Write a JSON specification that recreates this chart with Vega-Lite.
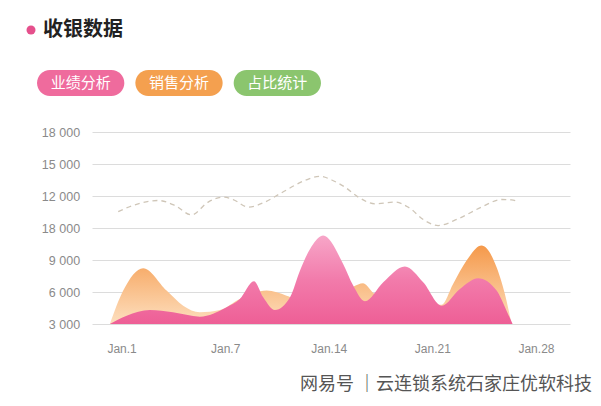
{
  "$schema": "https://vega.github.io/schema/vega-lite/v6.json",
  "background": "white",
  "padding": {"left": 21, "top": 20, "right": 0, "bottom": 12},
  "spacing": 30,
  "config": {"view": {"stroke": null}, "font": "Liberation Sans"},
  "datasets": {
    "tabs": [
      {"label": "业绩分析", "section": "收银数据"},
      {"label": "销售分析", "section": "收银数据"},
      {"label": "占比统计", "section": "收银数据"}
    ],
    "perf": [
      {"day": -0.79, "value": 3000}, {"day": 0.34, "value": 3780}, {"day": 1.91, "value": 4310},
      {"day": 3.47, "value": 4100}, {"day": 5.29, "value": 3690}, {"day": 7.09, "value": 4570},
      {"day": 7.99, "value": 5350}, {"day": 8.94, "value": 7010}, {"day": 9.57, "value": 5500},
      {"day": 10.36, "value": 4310}, {"day": 11.38, "value": 5500}, {"day": 12.05, "value": 8000},
      {"day": 12.95, "value": 10510}, {"day": 13.62, "value": 11290}, {"day": 14.97, "value": 8630},
      {"day": 15.65, "value": 6600}, {"day": 16.44, "value": 5130}, {"day": 17.68, "value": 6910},
      {"day": 19.14, "value": 8380}, {"day": 20.38, "value": 6910}, {"day": 21.62, "value": 4720},
      {"day": 22.86, "value": 6290}, {"day": 24.09, "value": 7290}, {"day": 25.34, "value": 6130},
      {"day": 26.01, "value": 4250}, {"day": 26.42, "value": 3000}
    ],
    "sales": [
      {"day": -0.79, "value": 3000}, {"day": 0.11, "value": 6130}, {"day": 1.46, "value": 8230},
      {"day": 3.04, "value": 6130}, {"day": 4.16, "value": 4720}, {"day": 5.29, "value": 4100},
      {"day": 6.64, "value": 4310}, {"day": 7.99, "value": 5350}, {"day": 9.8, "value": 6130},
      {"day": 11.15, "value": 5660}, {"day": 12.05, "value": 5200}, {"day": 13.6, "value": 6000},
      {"day": 15.1, "value": 6200}, {"day": 15.65, "value": 6500}, {"day": 16.32, "value": 6820},
      {"day": 17.11, "value": 5820}, {"day": 18.1, "value": 5500}, {"day": 20.2, "value": 5000},
      {"day": 21.62, "value": 4800}, {"day": 22.4, "value": 6760}, {"day": 23.31, "value": 8950},
      {"day": 24.32, "value": 10350}, {"day": 25.34, "value": 8320}, {"day": 26.01, "value": 5190},
      {"day": 26.35, "value": 3000}
    ],
    "ratio": [
      {"day": -0.23, "value": 13540}, {"day": 1.12, "value": 14270}, {"day": 2.47, "value": 14580},
      {"day": 3.6, "value": 14110}, {"day": 4.73, "value": 13230}, {"day": 5.85, "value": 14430},
      {"day": 6.86, "value": 14900}, {"day": 7.54, "value": 14670}, {"day": 8.55, "value": 13960},
      {"day": 9.68, "value": 14430}, {"day": 10.81, "value": 15300}, {"day": 12.39, "value": 16460},
      {"day": 13.4, "value": 16850}, {"day": 14.2, "value": 16500}, {"day": 15.09, "value": 15830},
      {"day": 15.99, "value": 14900}, {"day": 17.11, "value": 14270}, {"day": 18.47, "value": 14430},
      {"day": 19.36, "value": 13960}, {"day": 20.49, "value": 12700}, {"day": 21.39, "value": 12230},
      {"day": 22.74, "value": 12860}, {"day": 24.32, "value": 13960}, {"day": 25.68, "value": 14670},
      {"day": 26.35, "value": 14640}, {"day": 26.84, "value": 14430}
    ]
  },
  "resolve": {"scale": {"color": "independent", "opacity": "independent"}},
  "vconcat": [
    {
      "width": 316,
      "height": 26,
      "data": {"name": "tabs"},
      "encoding": {
        "x": {"field": "label", "type": "nominal", "sort": null, "axis": null,
              "scale": {"paddingInner": 0.112, "paddingOuter": 0.163}}
      },
      "layer": [
        {
          "mark": {"type": "bar", "cornerRadius": 13},
          "encoding": {
            "color": {"field": "label", "type": "nominal", "sort": null, "legend": null,
                      "scale": {"domain": ["业绩分析", "销售分析", "占比统计"], "range": ["#EF6B9D", "#F4A04F", "#8BC56E"]}},
            "opacity": {"field": "section", "type": "ordinal", "scale": {"range": [1, 1]},
                        "legend": {"orient": "top", "title": null, "offset": 30, "padding": 0,
                                   "symbolType": "circle", "symbolSize": 81, "symbolFillColor": "#E5508C",
                                   "symbolStrokeWidth": 0, "symbolOpacity": 1,
                                   "labelFont": "Noto Sans CJK SC", "labelFontSize": 20, "labelFontWeight": "bold",
                                   "labelColor": "#222222", "labelOffset": 2, "labelLimit": 300}}
          }
        },
        {
          "mark": {"type": "text", "color": "#FFFFFF", "fontSize": 15, "font": "Noto Sans CJK SC"},
          "encoding": {"text": {"field": "label", "type": "nominal"}}
        }
      ]
    },
    {
      "width": 549,
      "height": 192,
      "title": {"text": "网易号 ｜云连锁系统石家庄优软科技", "orient": "bottom", "anchor": "end",
                "font": "Noto Sans CJK SC", "fontSize": 18, "fontWeight": "normal", "color": "#555555",
                "offset": 22, "dx": 22},
      "layer": [
        {
          "data": {"name": "sales"},
          "mark": {"type": "area", "interpolate": "monotone",
                   "color": {"gradient": "linear", "x1": 0, "y1": 0, "x2": 0, "y2": 1,
                             "stops": [{"offset": 0, "color": "#F5994A"}, {"offset": 1, "color": "#FDDFBF"}]}},
          "encoding": {
            "x": {"field": "day", "type": "quantitative", "title": null,
                  "scale": {"domain": [-2, 30.3], "range": [71, 549], "nice": false, "zero": false},
                  "axis": {"values": [0, 7, 14, 21, 28], "tickCount": 10,
                           "labelExpr": "datum.value == 0 ? 'Jan.1' : 'Jan.' + datum.value",
                           "grid": false, "domain": false, "ticks": false, "labelPadding": 19,
                           "labelFontSize": 12, "labelColor": "#8a8a8a", "labelFont": "Liberation Sans"}},
            "y": {"field": "value", "type": "quantitative", "stack": null, "title": null,
                  "scale": {"domain": [3000, 21000], "nice": false, "zero": false},
                  "axis": {"values": [3000, 6000, 9000, 12000, 15000, 18000, 21000], "tickCount": 10,
                           "labelExpr": "datum.value == 12000 ? '18 000' : datum.value == 15000 ? '12 000' : datum.value == 18000 ? '15 000' : datum.value == 21000 ? '18 000' : datum.value == 9000 ? '9 000' : datum.value == 6000 ? '6 000' : '3 000'",
                           "grid": true, "gridColor": "#dcdcdc", "gridWidth": 1, "domain": false, "ticks": false,
                           "labelPadding": -58.6, "labelAlign": "right", "labelFontSize": 12.5, "labelColor": "#8a8a8a", "labelOverlap": false,
                           "labelFont": "Liberation Sans", "minExtent": 0}}
          }
        },
        {
          "data": {"name": "perf"},
          "mark": {"type": "area", "interpolate": "monotone",
                   "color": {"gradient": "linear", "x1": 0, "y1": 0, "x2": 0, "y2": 1,
                             "stops": [{"offset": 0, "color": "#F7A6C8"}, {"offset": 0.5, "color": "#F27BAB"}, {"offset": 1, "color": "#EE5F96"}]}},
          "encoding": {
            "x": {"field": "day", "type": "quantitative", "title": null,
                  "scale": {"domain": [-2, 30.3], "range": [71, 549], "nice": false, "zero": false}},
            "y": {"field": "value", "type": "quantitative", "stack": null, "title": null,
                  "scale": {"domain": [3000, 21000], "nice": false, "zero": false}}
          }
        },
        {
          "data": {"name": "ratio"},
          "mark": {"type": "line", "interpolate": "monotone", "color": "#CFC6B8", "strokeWidth": 1.3, "strokeDash": [5, 4]},
          "encoding": {
            "x": {"field": "day", "type": "quantitative", "title": null,
                  "scale": {"domain": [-2, 30.3], "range": [71, 549], "nice": false, "zero": false}},
            "y": {"field": "value", "type": "quantitative", "title": null,
                  "scale": {"domain": [3000, 21000], "nice": false, "zero": false}}
          }
        }
      ]
    }
  ]
}
